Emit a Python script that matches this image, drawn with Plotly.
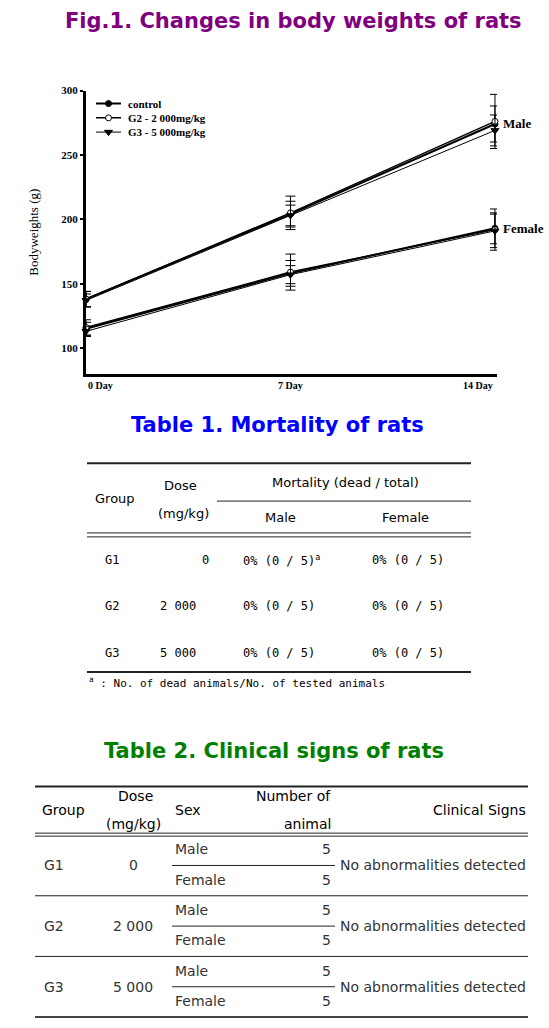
import plotly.graph_objects as go

W, H = 549, 1028


def px(x):
    return x / W


def py(y):
    return 1 - y / H


# ---- Fig.1 data: body weights (g) ----
days = [0, 7, 14]
day_labels = ["0 Day", "7 Day", "14 Day"]
groups = ["control", "G2 - 2 000mg/kg", "G3 - 5 000mg/kg"]

male_control = [138, 204, 274]
male_control_sd = [6, 10, 14]
male_g2 = [138, 205, 276]
male_g2_sd = [6, 13, 21]
male_g3 = [137, 203, 269]
male_g3_sd = [5, 8, 12]

female_control = [115, 158, 193]
female_control_sd = [5, 10, 12]
female_g2 = [116, 159, 192]
female_g2_sd = [6, 14, 16]
female_g3 = [113, 157, 191]
female_g3_sd = [4, 7, 13]

# ---- Table 1 data ----
t1_groups = ["G1", "G2", "G3"]
t1_doses = ["0", "2 000", "5 000"]
t1_male = ["0% (0 / 5)<sup>a</sup>", "0% (0 / 5)", "0% (0 / 5)"]
t1_female = ["0% (0 / 5)", "0% (0 / 5)", "0% (0 / 5)"]

# ---- Table 2 data ----
t2_groups = ["G1", "G2", "G3"]
t2_doses = ["0", "2 000", "5 000"]
t2_sex = ["Male", "Female"]
t2_counts = [[5, 5], [5, 5], [5, 5]]
t2_signs = ["No abnormalities detected"] * 3

serif = "Liberation Serif"
sans = "DejaVu Sans"
mono = "DejaVu Sans Mono"

styles = [
    dict(symbol="circle", color="black", line=dict(color="black", width=1), size=6),
    dict(symbol="circle", color="white", line=dict(color="black", width=1), size=6),
    dict(symbol="triangle-down", color="black", line=dict(color="black", width=1), size=7),
]
widths = [2, 1.5, 1]

fig = go.Figure()

series = [
    (male_control, male_control_sd, female_control, female_control_sd),
    (male_g2, male_g2_sd, female_g2, female_g2_sd),
    (male_g3, male_g3_sd, female_g3, female_g3_sd),
]
for i, (m, msd, f, fsd) in enumerate(series):
    for vals, sd in [(m, msd), (f, fsd)]:
        fig.add_trace(go.Scatter(
            x=days, y=vals, mode="lines+markers", name=groups[i], showlegend=False,
            line=dict(color="black", width=widths[i]),
            marker=styles[i], cliponaxis=False,
            error_y=dict(type="data", array=sd, color="black", thickness=1, width=5),
        ))

# legend glyphs drawn on a small helper axis pair (one row per group)
for i, name in enumerate(groups):
    fig.add_trace(go.Scatter(
        x=[0, 1, 2], y=[i, i, i], xaxis="x2", yaxis="y2", mode="lines",
        line=dict(color="black", width=widths[i]), showlegend=False, hoverinfo="skip"))
    fig.add_trace(go.Scatter(
        x=[1], y=[i], xaxis="x2", yaxis="y2", mode="markers", marker=styles[i],
        showlegend=False, hoverinfo="skip", cliponaxis=False))

annotations = []

for i, name in enumerate(groups):
    annotations.append(dict(x=2, y=i, xref="x2", yref="y2", xanchor="left", xshift=5,
                            text=name, showarrow=False,
                            font=dict(family=serif, size=11, color="black", weight="bold")))

# x tick labels (first left-aligned, middle centred, last right-aligned)
anchors = ["left", "center", "right"]
for d, lab, anc in zip(days, day_labels, anchors):
    annotations.append(dict(x=d, y=py(374), xref="x", yref="paper", yanchor="top",
                            xanchor=anc, text=lab, showarrow=False,
                            font=dict(family=serif, size=10, color="black", weight="bold")))

annotations.append(dict(x=days[-1], y=male_control[-1], xref="x", yref="y", xanchor="left",
                        xshift=6, text="Male", showarrow=False,
                        font=dict(family=serif, size=13, color="black", weight="bold")))
annotations.append(dict(x=days[-1], y=female_control[-1], xref="x", yref="y", xanchor="left",
                        xshift=6, text="Female", showarrow=False,
                        font=dict(family=serif, size=13, color="black", weight="bold")))


def txt(x, y, s, size, family=sans, color="black", anchor="center", bold=False):
    annotations.append(dict(x=px(x), y=py(y), xref="paper", yref="paper", text=s,
                            xanchor=anchor, yanchor="middle", showarrow=False,
                            font=dict(family=family, size=size, color=color,
                                      weight="bold" if bold else "normal")))


# titles
txt(293, 15, "Fig.1. Changes in body weights of rats", 21, color="#800080", bold=True)
txt(277, 421, "Table 1. Mortality of rats", 21, color="#0000ff", bold=True)
txt(274, 749, "Table 2. Clinical signs of rats", 21, color="#008000", bold=True)

shapes = []


def hline(y, x0, x1, w=1, color="#222222"):
    shapes.append(dict(type="line", xref="paper", yref="paper", x0=px(x0), x1=px(x1),
                       y0=py(y), y1=py(y), line=dict(color=color, width=w)))


# ---- Table 1 ----
hline(460, 87, 471, 2)
hline(498, 217, 471, 1)
hline(530, 87, 471, 1)
hline(534, 87, 471, 1)
hline(670, 87, 471, 2)
txt(115, 495, "Group", 13)
txt(180, 482, "Dose", 13)
txt(183, 510, "(mg/kg)", 13)
txt(345, 479, "Mortality (dead / total)", 13)
txt(280, 515, "Male", 13)
txt(405, 515, "Female", 13)
t1_rows_y = [557, 604, 651]
t1_dose_x = [211, 198, 198]
for i, ry in enumerate(t1_rows_y):
    txt(112, ry, t1_groups[i], 12, family=mono)
    txt(t1_dose_x[i], ry, t1_doses[i], 12, family=mono, anchor="right")
    txt(241, ry, t1_male[i], 12, family=mono, anchor="left")
    txt(370, ry, t1_female[i], 12, family=mono, anchor="left")
txt(87, 680, "<sup>a</sup> : No. of dead animals/No. of tested animals", 11, family=mono, anchor="left")

# ---- Table 2 ----
hline(785, 35, 528, 2)
hline(832, 35, 528, 1)
hline(835, 35, 528, 1)
hline(1017, 35, 528, 2, color="#444444")
txt(63, 809, "Group", 14)
txt(135, 795, "Dose", 14)
txt(133, 823, "(mg/kg)", 14)
txt(173, 809, "Sex", 14, anchor="left")
txt(333, 795, "Number of", 14, anchor="right")
txt(333, 823, "animal", 14, anchor="right")
txt(528, 809, "Clinical Signs", 14, anchor="right")
block_top = 834
block_h = 61
body = "#333333"
for i in range(len(t2_groups)):
    top = block_top + i * block_h
    mid = top + block_h / 2
    txt(54, mid, t2_groups[i], 14, color=body)
    txt(133, mid, t2_doses[i], 14, color=body)
    txt(528, mid, t2_signs[i], 14, color=body, anchor="right")
    hline(mid, 172, 335, 1)
    for j, sex in enumerate(t2_sex):
        ry = top + block_h / 4 + j * block_h / 2 - 1
        txt(173, ry, sex, 14, color=body, anchor="left")
        txt(333, ry, str(t2_counts[i][j]), 14, color=body, anchor="right")
    if i < len(t2_groups) - 1:
        hline(top + block_h, 35, 528, 1)

fig.update_layout(
    width=W, height=H, autosize=False,
    margin=dict(l=0, r=0, t=0, b=0),
    paper_bgcolor="white", plot_bgcolor="white",
    showlegend=False,
    xaxis=dict(domain=[px(86), px(497)], range=[0, 14.07], showline=True, linewidth=3,
               linecolor="black", showgrid=False, zeroline=False, showticklabels=False,
               ticks=""),
    yaxis=dict(domain=[py(370), py(85)], range=[80, 300], showline=True, linewidth=3,
               linecolor="black", showgrid=False, zeroline=False, ticks="outside",
               ticklen=3, tickwidth=2, tickcolor="black",
               tickvals=[100, 150, 200, 250, 300],
               tickfont=dict(family=serif, size=11, color="black", weight="bold"),
               title=dict(text="Bodyweights (g)", standoff=20,
                          font=dict(family=serif, size=13, color="black"))),
    xaxis2=dict(domain=[px(96), px(121)], range=[0, 2], visible=False, fixedrange=True),
    yaxis2=dict(domain=[py(134), py(91)], range=[2.5, -0.5], visible=False, fixedrange=True),
    annotations=annotations,
    shapes=shapes,
)

fig.write_html("out.html", config={"displayModeBar": False},
               post_script="document.body.style.margin='0';")
